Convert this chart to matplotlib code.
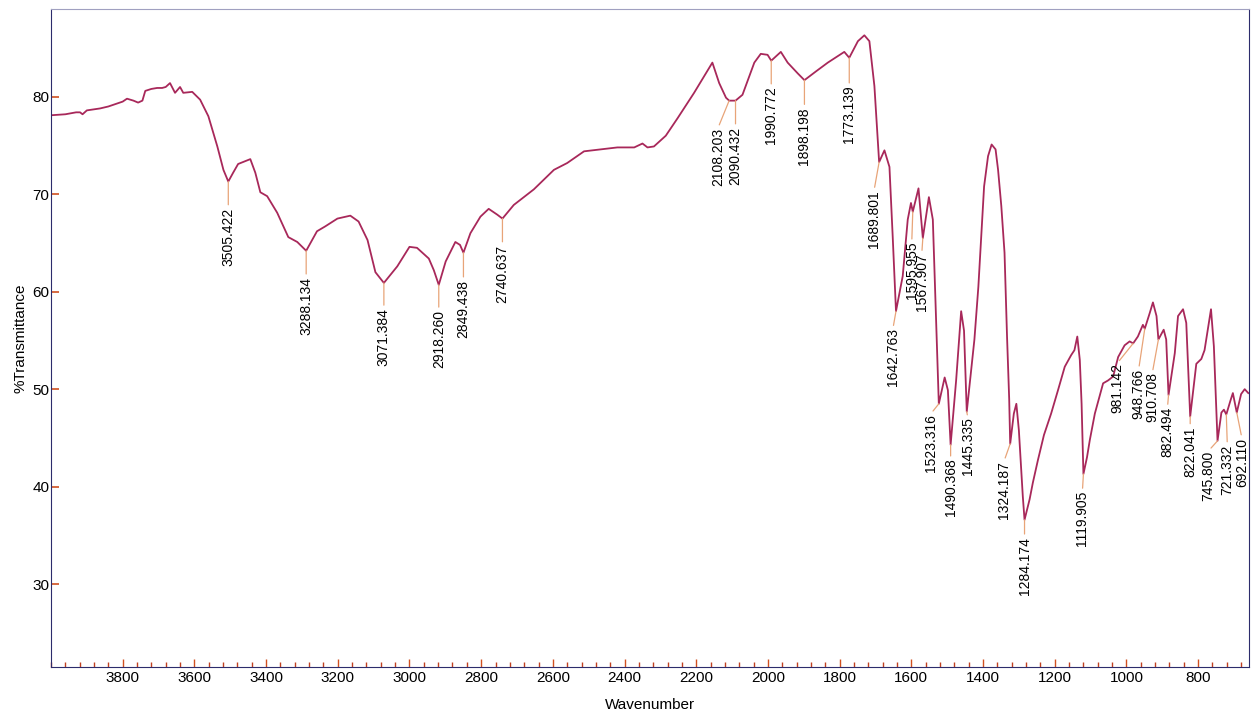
import numpy as np
import matplotlib
matplotlib.use("Agg")
import matplotlib.pyplot as plt
from matplotlib.ticker import MultipleLocator

plt.rcParams['font.family'] = ['Liberation Sans', 'DejaVu Sans']

# spectrum (wavenumber, %T)
wn = [4000, 3960, 3930, 3919, 3912, 3900, 3863, 3840, 3816, 3800, 3788, 3770, 3757, 3745,
      3737, 3720, 3704, 3690, 3680, 3668, 3654, 3640, 3631, 3606, 3584, 3561, 3536, 3519,
      3505.422, 3492, 3478, 3444, 3430, 3416, 3397, 3369, 3338, 3313, 3288.134, 3258, 3235,
      3201, 3165, 3142, 3117, 3095, 3071.384, 3034, 3000, 2979, 2946, 2932, 2918.260, 2899,
      2872, 2859, 2849.438, 2830, 2802, 2779, 2755, 2740.637, 2709, 2653, 2597, 2560, 2513,
      2466, 2420, 2373, 2350, 2336, 2318, 2285, 2252, 2206, 2178, 2155, 2136, 2117,
      2108.203, 2090.432, 2071, 2038, 2020, 2001, 1990.772, 1964, 1945, 1917, 1898.198,
      1866, 1833, 1787, 1773.139, 1749, 1731, 1717, 1703, 1689.801, 1675, 1661, 1652,
      1642.763, 1624, 1610, 1601, 1595.955, 1580, 1567.907, 1551, 1540, 1531, 1523.316,
      1507, 1498, 1490.368, 1475, 1461, 1453, 1445.335, 1424, 1413, 1405, 1397, 1386, 1376,
      1365, 1358, 1349, 1340, 1333, 1327, 1324.187, 1314, 1307, 1300, 1289, 1284.174, 1270,
      1261, 1247, 1230, 1210, 1190, 1172, 1154, 1145, 1137, 1130, 1125, 1119.905, 1110,
      1102, 1088, 1065, 1051, 1037, 1023, 1005, 991, 981.142, 968, 954, 948.766, 935, 926,
      916, 910.708, 896, 889, 882.494, 865, 856, 842, 833, 822.041, 805, 791, 782, 764, 756,
      745.800, 735, 728, 721.332, 710, 703, 692.110, 680, 670, 660]
tr = [78.1, 78.2, 78.4, 78.4, 78.2, 78.6, 78.8, 79.0, 79.3, 79.5, 79.8, 79.6, 79.4, 79.6,
      80.6, 80.8, 80.9, 80.9, 81.0, 81.4, 80.4, 81.0, 80.4, 80.5, 79.7, 78.0, 74.9, 72.5,
      71.3, 72.2, 73.1, 73.6, 72.2, 70.2, 69.8, 68.1, 65.6, 65.1, 64.2, 66.2, 66.7,
      67.5, 67.8, 67.2, 65.3, 62.0, 60.9, 62.6, 64.6, 64.5, 63.4, 62.2, 60.7, 63.1,
      65.1, 64.8, 64.0, 66.0, 67.7, 68.5, 67.9, 67.5, 68.9, 70.5, 72.5, 73.2, 74.4,
      74.6, 74.8, 74.8, 75.2, 74.8, 74.9, 76.0, 77.8, 80.4, 82.1, 83.5, 81.4, 79.9,
      79.6, 79.6, 80.2, 83.5, 84.4, 84.3, 83.7, 84.6, 83.5, 82.4, 81.7,
      82.6, 83.5, 84.6, 84.0, 85.7, 86.3, 85.7, 81.1, 73.3, 74.5, 72.8, 65.7,
      58.0, 61.6, 67.4, 69.1, 68.2, 70.6, 65.5, 69.7, 67.4, 57.1, 48.5,
      51.2, 49.9, 44.3, 50.9, 58.0, 56.0, 47.7, 55.1, 60.5, 65.6, 70.8, 73.9, 75.1,
      74.6, 72.5, 68.8, 64.0, 55.4, 49.0, 44.4, 47.5, 48.5, 45.8, 39.0, 36.6, 38.7,
      40.4, 42.7, 45.3, 47.5, 50.0, 52.3, 53.5, 54.0, 55.4, 53.0, 48.5, 41.3, 43.0,
      44.8, 47.5, 50.6, 50.9, 51.3, 53.3, 54.5, 54.9, 54.7, 55.4, 56.6, 56.2, 57.8, 58.9,
      57.5, 55.1, 56.1, 55.1, 49.4, 53.7, 57.5, 58.2, 56.8, 47.2, 52.6, 53.1, 54.0, 58.2, 54.4,
      44.7, 47.6, 47.9, 47.4, 48.8, 49.6, 47.6, 49.5, 50.0, 49.6]

peaks = [3505.422, 3288.134, 3071.384, 2918.260, 2849.438, 2740.637, 2108.203, 2090.432,
         1990.772, 1898.198, 1773.139, 1689.801, 1642.763, 1595.955, 1567.907, 1523.316,
         1490.368, 1445.335, 1324.187, 1284.174, 1119.905, 981.142, 948.766, 910.708,
         882.494, 822.041, 745.800, 721.332, 692.110]

# where each peak label sits relative to its peak, in pixels
label_off = [(0, -26), (0, -26), (0, -25), (0, -25), (0, -27), (0, -26), (-11, -27), (0, -26),
             (0, -26), (0, -27), (0, -28), (-5, -28), (-3, -17), (-1, -30), (-1, -15), (-8, -10),
             (0, -14), (1, -6), (-6, -17), (0, -17), (-1, -17), (-16, -20), (-6, -40), (-6, -33),
             (-1, -12), (0, -10), (-9, -10), (1, -30), (5, -25)]

xticks = list(range(3800, 700, -200))
yticks = [30, 40, 50, 60, 70, 80]

fig = plt.figure(figsize=(12.51, 7.17), dpi=100)
ax = fig.add_axes([51/1251, 50/717, 1198/1251, 658/717])

ax.plot(wn, tr, color='#a8285a', lw=1.3)

wn_a = np.array(wn)[::-1]
tr_a = np.array(tr)[::-1]
for p, (dx, dy) in zip(peaks, label_off):
    t = np.interp(p, wn_a, tr_a)
    ax.annotate('%.3f' % p, xy=(p, t), xytext=(dx, dy), textcoords='offset pixels',
                rotation=90, ha='center', va='top', fontsize=10,
                arrowprops=dict(arrowstyle='-', color='#e8a478', lw=0.9,
                                shrinkA=0, shrinkB=0, relpos=(0.5, 1.0)))

ax.set_xlim(4000, 658)
ax.set_ylim(21.5, 89)
ax.set_xticks(xticks)
ax.set_yticks(yticks)
ax.xaxis.set_minor_locator(MultipleLocator(40))
ax.tick_params(axis='x', which='major', direction='in', length=6, width=1,
               color='#d05020', labelsize=11, pad=3)
ax.tick_params(axis='x', which='minor', direction='in', length=3.5, width=1, color='#c04020')
ax.tick_params(axis='y', which='major', direction='in', length=6, width=1.2,
               color='#d05020', labelsize=11, pad=1)

for side in ['left', 'right', 'bottom']:
    ax.spines[side].set_color('#2c2c6c')
ax.spines['top'].set_color('#a0a0c0')

ax.set_xlabel('Wavenumber', fontsize=11, labelpad=9)
ax.set_ylabel('%Transmittance', fontsize=11, labelpad=4)

fig.savefig('out.png', dpi=100)
